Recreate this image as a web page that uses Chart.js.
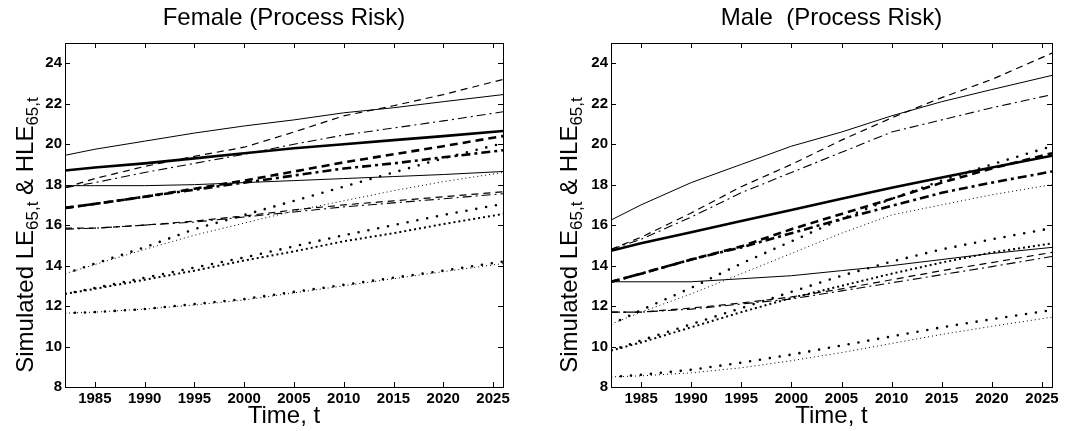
<!DOCTYPE html>
<html>
<head>
<meta charset="utf-8">
<script src="https://cdn.jsdelivr.net/npm/chart.js@4"></script>
<style>
    body { margin: 0; background: #fff; }
    .panel { position: absolute; top: 0; width: 530px; height: 431px; }
    .panel canvas { position: absolute; left: 0; top: 0; }
    .title, .xlabel, .ylabel {
        position: absolute;
        font-family: "Liberation Sans", Arial, sans-serif;
        color: #000;
        text-align: center;
        white-space: pre;
    }
    .title { top: 3px; font-size: 24px; }
    .xlabel { top: 401px; font-size: 24px; }
    .ylabel { width: 330px; height: 30px; line-height: 30px; font-size: 24px; transform: rotate(-90deg); }
    .ylabel sub { font-size: 17px; vertical-align: -5px; }
</style>
</head>
<body>
<div class="panel" id="leftPanel" style="left:0">
    <canvas id="femaleChart" width="530" height="431"></canvas>
    <div class="title" style="left:65px;width:438px">Female (Process Risk)</div>
    <div class="xlabel" style="left:65px;width:438px">Time, t</div>
    <div class="ylabel" style="left:-140px;top:220px">Simulated LE<sub>65,t</sub> &amp; HLE<sub>65,t</sub></div>
</div>
<div class="panel" id="rightPanel" style="left:535px">
    <canvas id="maleChart" width="530" height="431"></canvas>
    <div class="title" style="left:76px;width:441px">Male  (Process Risk)</div>
    <div class="xlabel" style="left:76px;width:441px">Time, t</div>
    <div class="ylabel" style="left:-131px;top:220px">Simulated LE<sub>65,t</sub> &amp; HLE<sub>65,t</sub></div>
</div>
<script>
const years = [1982, 1985, 1990, 1995, 2000, 2005, 2010, 2015, 2020, 2026];
const xTicks = [1985, 1990, 1995, 2000, 2005, 2010, 2015, 2020, 2025];
const yTicks = [8, 10, 12, 14, 16, 18, 20, 22, 24];

// Female
const fSolidHi = [19.45, 19.75, 20.15, 20.55, 20.9, 21.2, 21.55, 21.8, 22.1, 22.45];
const fSolidMid = [18.7, 18.85, 19.05, 19.3, 19.55, 19.8, 20.0, 20.2, 20.4, 20.65];
const fSolidLo = [17.95, 17.95, 17.95, 18.0, 18.1, 18.2, 18.3, 18.4, 18.5, 18.65];
const fDashHi = [17.85, 18.3, 18.9, 19.4, 19.85, 20.6, 21.4, 21.9, 22.45, 23.2];
const fDashMid = [16.85, 17.05, 17.4, 17.8, 18.2, 18.65, 19.1, 19.5, 19.9, 20.4];
const fDashLo = [15.85, 15.85, 16.0, 16.2, 16.45, 16.75, 17.0, 17.2, 17.4, 17.65];
const fDashDotHi = [17.85, 18.1, 18.6, 19.05, 19.5, 20.0, 20.45, 20.8, 21.15, 21.6];
const fDashDotMid = [16.85, 17.05, 17.4, 17.75, 18.1, 18.45, 18.8, 19.05, 19.35, 19.7];
const fDashDotLo = [15.8, 15.85, 16.0, 16.15, 16.4, 16.65, 16.9, 17.1, 17.3, 17.55];
const fBigDotHi = [13.6, 14.1, 14.9, 15.8, 16.5, 17.2, 17.9, 18.6, 19.3, 20.05];
const fFineDotHi = [13.6, 14.05, 14.8, 15.5, 16.1, 16.7, 17.2, 17.7, 18.15, 18.6];
const fBigDotMid = [12.6, 12.9, 13.4, 13.9, 14.4, 14.95, 15.5, 16.0, 16.5, 17.05];
const fDenseDotMid = [12.6, 12.85, 13.3, 13.75, 14.25, 14.7, 15.2, 15.6, 16.05, 16.55];
const fBigDotLo = [11.65, 11.7, 11.85, 12.1, 12.35, 12.7, 13.05, 13.4, 13.75, 14.2];
const fFineDotLo = [11.65, 11.7, 11.85, 12.05, 12.3, 12.65, 13.0, 13.35, 13.7, 14.1];

// Male
const mSolidHi = [16.25, 17.0, 18.1, 19.0, 19.9, 20.6, 21.4, 22.1, 22.7, 23.4];
const mSolidMid = [14.73, 15.1, 15.65, 16.2, 16.75, 17.3, 17.85, 18.35, 18.85, 19.43];
const mSolidLo = [13.2, 13.2, 13.2, 13.35, 13.5, 13.75, 14.0, 14.3, 14.6, 14.9];
const mDashHi = [14.8, 15.4, 16.6, 17.9, 19.0, 20.2, 21.3, 22.3, 23.2, 24.5];
const mDashMid = [13.2, 13.6, 14.3, 14.95, 15.8, 16.55, 17.3, 18.1, 18.8, 19.55];
const mDashLo = [11.7, 11.7, 11.9, 12.15, 12.45, 12.85, 13.3, 13.75, 14.15, 14.65];
const mDashDotHi = [14.8, 15.3, 16.4, 17.6, 18.6, 19.6, 20.6, 21.2, 21.8, 22.45];
const mDashDotMid = [13.2, 13.6, 14.3, 14.9, 15.6, 16.3, 16.95, 17.6, 18.1, 18.65];
const mDashDotLo = [11.7, 11.7, 11.85, 12.1, 12.35, 12.75, 13.15, 13.55, 13.95, 14.45];
const mBigDotHi = [11.1, 11.8, 12.9, 14.1, 15.2, 16.3, 17.3, 18.2, 19.0, 19.9];
const mFineDotHi = [11.1, 11.7, 12.6, 13.6, 14.6, 15.6, 16.5, 17.0, 17.5, 18.0];
const mBigDotMid = [9.8, 10.3, 11.1, 11.9, 12.7, 13.5, 14.2, 14.8, 15.3, 15.85];
const mDenseDotMid = [9.8, 10.2, 10.95, 11.7, 12.4, 13.0, 13.6, 14.15, 14.65, 15.1];
const mBigDotLo = [8.5, 8.6, 8.85, 9.2, 9.6, 10.05, 10.5, 10.95, 11.35, 11.8];
const mFineDotLo = [8.5, 8.55, 8.7, 8.95, 9.3, 9.7, 10.15, 10.6, 11.0, 11.45];

// line styles (MATLAB-like)
const SOLID = { borderWidth: 1, borderDash: [] };
const SOLID_THICK = { borderWidth: 2.6, borderDash: [] };
const DASH = { borderWidth: 1.2, borderDash: [7, 5] };
const DASH_THICK = { borderWidth: 2.6, borderDash: [8, 5] };
const DASHDOT = { borderWidth: 1.1, borderDash: [9, 4, 2, 4] };
const DASHDOT_THICK = { borderWidth: 2.6, borderDash: [9, 4, 3, 4] };
const FINE_DOT = { borderWidth: 1, borderDash: [1, 3] };
const BIG_DOT = { borderWidth: 2.6, borderDash: [0, 10], borderCapStyle: "round" };
const DENSE_DOT = { borderWidth: 2, borderDash: [2, 3] };

function series(values, style) {
    return Object.assign({
        data: years.map((x, i) => ({ x: x, y: values[i] })),
        borderColor: "#000",
        pointRadius: 0,
        fill: false,
        tension: 0
    }, style);
}

// box and inward ticks on all four sides
const boxTicks = {
    id: "boxTicks",
    afterDraw(chart) {
        const { ctx, chartArea: a, scales } = chart;
        ctx.save();
        ctx.strokeStyle = "#000";
        ctx.lineWidth = 1;
        ctx.setLineDash([]);
        ctx.strokeRect(a.left + 0.5, a.top + 0.5, a.right - a.left, a.bottom - a.top);
        ctx.beginPath();
        xTicks.forEach(v => {
            const px = Math.round(scales.x.getPixelForValue(v)) + 0.5;
            ctx.moveTo(px, a.bottom); ctx.lineTo(px, a.bottom - 5);
            ctx.moveTo(px, a.top); ctx.lineTo(px, a.top + 5);
        });
        yTicks.forEach(v => {
            const py = Math.round(scales.y.getPixelForValue(v)) + 0.5;
            ctx.moveTo(a.left, py); ctx.lineTo(a.left + 5, py);
            ctx.moveTo(a.right, py); ctx.lineTo(a.right - 5, py);
        });
        ctx.stroke();
        ctx.restore();
    }
};

function makeChart(id, datasets, yAxisWidth, rightPad) {
    const tickFont = { family: "Liberation Sans", size: 15, weight: "bold" };
    return new Chart(document.getElementById(id), {
        type: "line",
        data: { datasets: datasets },
        options: {
            responsive: false,
            animation: false,
            layout: { padding: { top: 43, right: rightPad, bottom: 0, left: 0 } },
            plugins: { legend: { display: false }, tooltip: { enabled: false } },
            scales: {
                x: {
                    type: "linear",
                    min: 1982,
                    max: 2026,
                    afterBuildTicks: s => { s.ticks = xTicks.map(v => ({ value: v })); },
                    afterFit: s => { s.height = 44; },
                    grid: { display: false, drawTicks: false },
                    border: { display: false },
                    ticks: { color: "#000", font: tickFont, padding: 3, maxRotation: 0, callback: v => String(v) }
                },
                y: {
                    min: 8,
                    max: 25,
                    afterBuildTicks: s => { s.ticks = yTicks.map(v => ({ value: v })); },
                    afterFit: s => { s.width = yAxisWidth; },
                    grid: { display: false, drawTicks: false },
                    border: { display: false },
                    ticks: { color: "#000", font: tickFont, padding: 3 }
                }
            }
        },
        plugins: [boxTicks]
    });
}

makeChart("femaleChart", [
    series(fSolidHi, SOLID),
    series(fSolidMid, SOLID_THICK),
    series(fSolidLo, SOLID),
    series(fDashHi, DASH),
    series(fDashMid, DASH_THICK),
    series(fDashLo, DASH),
    series(fDashDotHi, DASHDOT),
    series(fDashDotMid, DASHDOT_THICK),
    series(fDashDotLo, DASHDOT),
    series(fBigDotHi, BIG_DOT),
    series(fFineDotHi, FINE_DOT),
    series(fBigDotMid, BIG_DOT),
    series(fDenseDotMid, DENSE_DOT),
    series(fBigDotLo, BIG_DOT),
    series(fFineDotLo, FINE_DOT)
], 65, 27);

makeChart("maleChart", [
    series(mSolidHi, SOLID),
    series(mSolidMid, SOLID_THICK),
    series(mSolidLo, SOLID),
    series(mDashHi, DASH),
    series(mDashMid, DASH_THICK),
    series(mDashLo, DASH),
    series(mDashDotHi, DASHDOT),
    series(mDashDotMid, DASHDOT_THICK),
    series(mDashDotLo, DASHDOT),
    series(mBigDotHi, BIG_DOT),
    series(mFineDotHi, FINE_DOT),
    series(mBigDotMid, BIG_DOT),
    series(mDenseDotMid, DENSE_DOT),
    series(mBigDotLo, BIG_DOT),
    series(mFineDotLo, FINE_DOT)
], 76, 13);
</script>
</body>
</html>
